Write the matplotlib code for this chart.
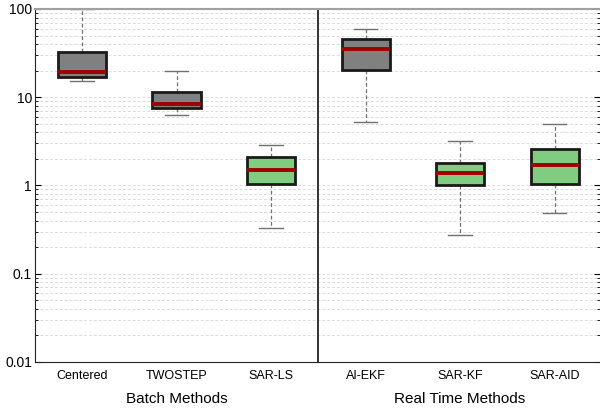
import matplotlib
matplotlib.use("Agg")
import matplotlib.pyplot as plt
import numpy as np

plt.rcParams['font.family'] = ['Liberation Sans', 'DejaVu Sans']

methods = ["Centered", "TWOSTEP", "SAR-LS", "AI-EKF", "SAR-KF", "SAR-AID"]
whislo = [15.3, 6.3, 0.33, 5.3, 0.275, 0.49]
q1 = [16.9, 7.55, 1.04, 20.4, 1.0, 1.05]
med = [19.3, 8.4, 1.5, 34.8, 1.39, 1.69]
q3 = [32.6, 11.5, 2.1, 45.7, 1.8, 2.56]
whishi = [100.0, 19.8, 2.88, 60.0, 3.15, 4.97]
box_colors = ["#808080", "#808080", "#80cc80", "#808080", "#80cc80", "#80cc80"]
groups = ["Batch Methods", "Real Time Methods"]

stats = []
for i, name in enumerate(methods):
    stats.append(dict(label=name, whislo=whislo[i], q1=q1[i], med=med[i],
                      q3=q3[i], whishi=whishi[i], fliers=[]))

fig = plt.figure(figsize=(6, 4.08), dpi=100)
ax = fig.add_axes([0.058, 0.113, 0.942, 0.865])

pos = np.arange(1, len(methods) + 1)
bp = ax.bxp(stats, positions=pos, widths=0.51, patch_artist=True,
            showfliers=False,
            boxprops=dict(edgecolor="#1a1a1a", linewidth=2.0),
            medianprops=dict(color="#a00000", linewidth=2.8),
            whiskerprops=dict(color="#707070", linestyle=(0, (3, 2)), linewidth=0.9),
            capprops=dict(color="#707070", linewidth=1.0),
            capwidths=0.25)
for patch, c in zip(bp['boxes'], box_colors):
    patch.set_facecolor(c)
for w in bp['whiskers']:
    w.set_zorder(1)

ax.set_yscale('log')
ax.set_ylim(0.01, 100)
ax.set_xlim(0.5, 6.48)
ax.set_yticks([0.01, 0.1, 1, 10, 100])
ax.set_yticklabels(["0.01", "0.1", "1", "10", "100"], fontsize=10)
ax.set_xticks(pos)
ax.set_xticklabels(methods, fontsize=9)
ax.tick_params(axis='x', length=0, pad=6)
ax.tick_params(axis='y', which='both', direction='in', right=True, pad=2)
ax.tick_params(axis='y', which='major', length=4)
ax.tick_params(axis='y', which='minor', length=2)

ax.yaxis.grid(True, which='both', color='#dcdcdc', linestyle=(0, (3, 2)), linewidth=0.7)
ax.set_axisbelow(True)

# divider between batch and real-time groups
ax.axvline(3.5, color='#222222', linewidth=1.3)

ax.spines['top'].set_color('#a0a0a0')
ax.spines['top'].set_linewidth(1.5)
ax.spines['right'].set_visible(False)
ax.spines['left'].set_color('#222222')
ax.spines['bottom'].set_color('#222222')

ax.text(2.0, -0.106, groups[0], transform=ax.get_xaxis_transform(),
        ha='center', va='center', fontsize=11)
ax.text(5.0, -0.106, groups[1], transform=ax.get_xaxis_transform(),
        ha='center', va='center', fontsize=11)

fig.savefig("out.png", dpi=100)
